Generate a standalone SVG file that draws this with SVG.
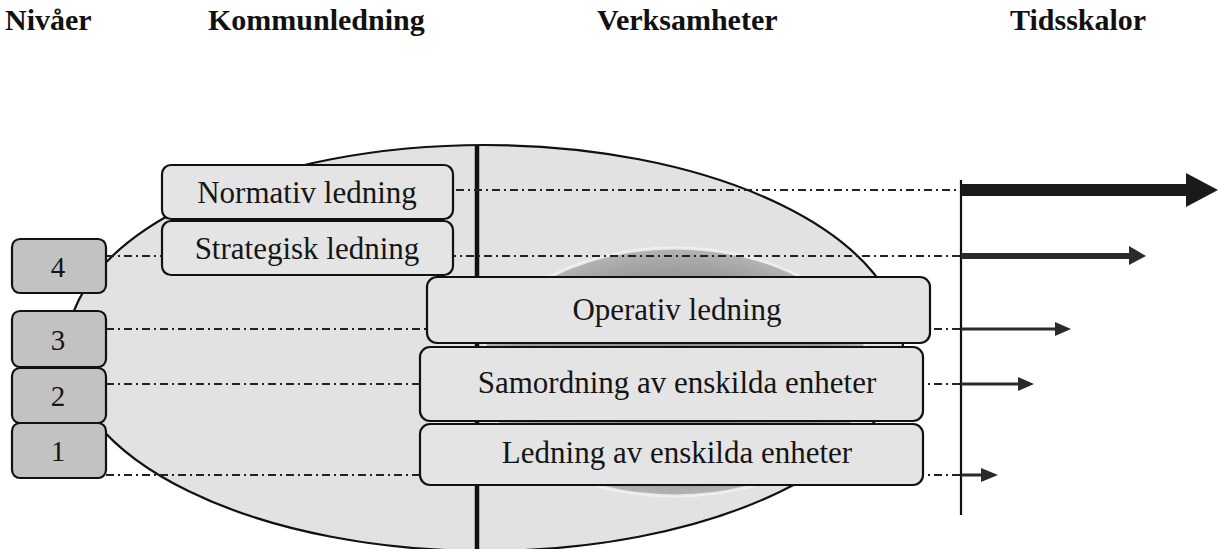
<svg xmlns="http://www.w3.org/2000/svg" width="1219" height="549" viewBox="0 0 1219 549">
<defs>
<style>
.hdr{font-family:"Liberation Serif","Times New Roman",serif;font-size:30px;font-weight:bold;fill:#111}
.lbl{font-family:"Liberation Serif","Times New Roman",serif;font-size:31px;fill:#151515;text-anchor:middle}
.num{font-family:"Liberation Serif","Times New Roman",serif;font-size:29px;fill:#151515;text-anchor:middle}
.box{fill:#e4e4e4;stroke:#111;stroke-width:2.2}
.lvl{fill:#c2c2c2;stroke:#111;stroke-width:2.2}
.dd{stroke:#222;stroke-width:1.8;stroke-dasharray:8 4 2 4;fill:none}
.ax{stroke:#111;fill:none}
</style>
<radialGradient id="inner" cx="0.5" cy="0.5" r="0.5">
<stop offset="0" stop-color="#8e8e8e"/>
<stop offset="0.8" stop-color="#9c9c9c"/>
<stop offset="1" stop-color="#b4b4b4"/>
</radialGradient>
</defs>
<rect width="1219" height="549" fill="#ffffff"/>
<g id="headers">
<text class="hdr" x="5" y="30">Nivåer</text>
<text class="hdr" x="208" y="30">Kommunledning</text>
<text class="hdr" x="597" y="30">Verksamheter</text>
<text class="hdr" x="1010" y="30">Tidsskalor</text>
</g>
<g id="background">
<ellipse cx="485" cy="348" rx="418" ry="203" fill="#e2e2e2" stroke="#111" stroke-width="2.2"/>
<ellipse cx="675" cy="372" rx="195" ry="124" fill="url(#inner)" stroke="#f2f2f2" stroke-width="3" stroke-opacity="0.85"/>
<line x1="477" y1="146" x2="477" y2="549" stroke="#111" stroke-width="4.5"/>
</g>
<g id="connectors">
<line class="dd" x1="420" y1="190" x2="961" y2="190"/>
<line class="dd" x1="106" y1="256" x2="961" y2="256"/>
<line class="dd" x1="106" y1="329" x2="961" y2="329"/>
<line class="dd" x1="106" y1="384" x2="961" y2="384"/>
<line class="dd" x1="106" y1="475" x2="961" y2="475"/>
<line class="ax" x1="961" y1="180" x2="961" y2="515" stroke-width="2.2"/>
<path d="M961 184 H1186 V173 L1218 190 L1186 207 V196 H961 Z" fill="#1a1a1a"/>
<path d="M961 253 H1129 V246 L1146 256 L1129 265 V259 H961 Z" fill="#2a2a2a"/>
<path d="M961 327.5 H1055 V322 L1071 329 L1055 336 V330.5 H961 Z" fill="#2a2a2a"/>
<path d="M961 382.5 H1018 V377 L1034 384 L1018 391 V385.5 H961 Z" fill="#2a2a2a"/>
<path d="M961 473.5 H981 V468 L998 475 L981 482 V476.5 H961 Z" fill="#2a2a2a"/>
</g>
<g id="level4"><rect class="lvl" x="12" y="239" width="94" height="54" rx="8"/><text class="num" x="58" y="277">4</text></g>
<g id="level3"><rect class="lvl" x="12" y="311" width="94" height="56" rx="8"/><text class="num" x="58" y="350">3</text></g>
<g id="level2"><rect class="lvl" x="12" y="368" width="94" height="55" rx="8"/><text class="num" x="58" y="406">2</text></g>
<g id="level1"><rect class="lvl" x="12" y="423" width="94" height="55" rx="8"/><text class="num" x="58" y="461">1</text></g>
<g id="normativ"><rect class="box" x="162" y="165" width="291" height="54" rx="9"/><text class="lbl" x="307" y="203">Normativ ledning</text></g>
<g id="strategisk"><rect class="box" x="162" y="221" width="291" height="54" rx="9"/><text class="lbl" x="307" y="259">Strategisk ledning</text></g>
<g id="operativ"><rect class="box" x="427" y="277" width="503" height="66" rx="10"/><text class="lbl" x="677" y="320">Operativ ledning</text></g>
<g id="samordning"><rect class="box" x="420" y="347" width="503" height="74" rx="10"/><text class="lbl" x="677" y="393">Samordning av enskilda enheter</text></g>
<g id="ledning"><rect class="box" x="420" y="424" width="503" height="61" rx="10"/><text class="lbl" x="677" y="463">Ledning av enskilda enheter</text></g>
</svg>
